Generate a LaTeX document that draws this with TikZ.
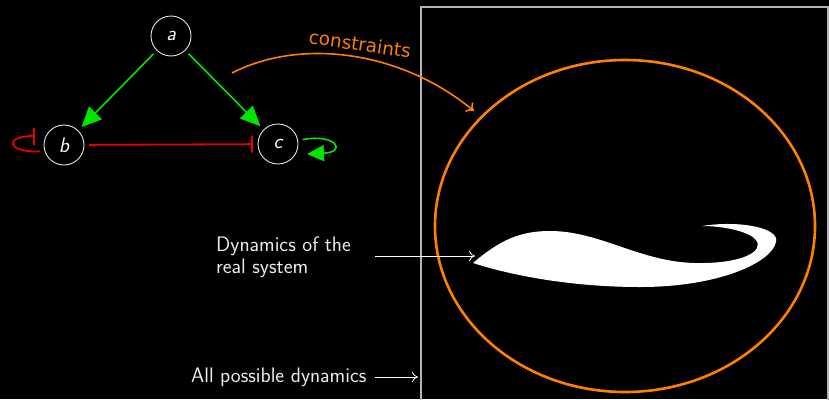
\documentclass[tikz,border=0pt]{standalone}
\usepackage{fontspec}
\newfontfamily\dejavu{DejaVu Sans}
\usetikzlibrary{arrows.meta,calc,shapes.geometric}
\definecolor{grn}{RGB}{0,230,0}
\definecolor{rd}{RGB}{230,0,0}
\definecolor{orng}{RGB}{255,128,0}
\definecolor{framec}{RGB}{180,180,180}
\begin{document}
\begin{tikzpicture}[x=1pt,y=-1pt,
 state/.style={circle,draw=white!90!black,line width=0.9pt,minimum size=40pt,inner sep=0pt,outer sep=5pt,text=white,font=\fontsize{21}{22}\selectfont\sffamily\itshape},
 act/.style={draw=grn,line width=1.6pt,-{Triangle[length=20pt,width=18pt]}},
 inh/.style={draw=rd,line width=1.8pt,-{Bar[width=17pt,line width=1.8pt]}},
 lbl/.style={text=white!92!black,font=\fontsize{21}{22}\selectfont\sffamily,inner sep=0pt},
 thinarr/.style={draw=white,line width=0.8pt,-{To[length=6pt,width=10pt]}},
 conarr/.style={draw=orng,line width=1.6pt,-{To[length=7pt,width=12pt]}}]
\useasboundingbox (0,0) rectangle (829,399);
\fill[black] (0,0) rectangle (829,399);
\draw[framec,line width=1.4pt] (421,402) -- (421,7) -- (828,7) -- (828,402);
% network
\node[state] (a) at (171,36) {a};
\node[state] (b) at (64,145) {b};
\node[state] (c) at (278,144) {c};
\draw[act] (a) -- (b);
\draw[act] (a) -- (c);
\draw[inh] (b) -- (c);
\coordinate (bl) at (35,136);
\draw[inh] (b.195) .. controls (8,153) and (2,136) .. (bl);
\coordinate (cl) at (307,154);
\draw[act,-{Triangle[length=17pt,width=16pt]}] (c.10) .. controls (335,133) and (348,152) .. (cl);
% ellipse and blob
\node[ellipse,draw=orng,line width=2.6pt,minimum width=380pt,minimum height=332pt,inner sep=0pt] (E) at (625,226) {};
\fill[white] (473,263)
 .. controls (500,240) and (520,231) .. (550,231)
 .. controls (600,231) and (640,262) .. (695,263)
 .. controls (740,264) and (765,252) .. (756,240)
 .. controls (750,232) and (725,226) .. (702,226)
 .. controls (740,220) and (780,228) .. (776,242)
 .. controls (772,262) and (720,287) .. (640,287)
 .. controls (570,287) and (510,275) .. (473,263) -- cycle;
\coordinate (blobtip) at (475,256);
% constraints
\coordinate (cs) at (232,73);
\coordinate (ce) at (474,111);
\draw[conarr] (cs) .. controls (300,38) and (400,50) .. (ce);
\node[text=orng,font=\dejavu\fontsize{18.5}{20}\selectfont,rotate=-8.5,inner sep=0pt] (cons) at (360,44) {constraints};
% labels
\node[lbl,align=left,anchor=west] (dyn) at (216,257) {Dynamics of the\\real system};
\coordinate (d1) at (375,256);
\draw[thinarr] (d1) -- (blobtip);
\node[lbl,anchor=base west] (all) at (191,382) {All possible dynamics};
\coordinate (p1) at (375,377);
\coordinate (p2) at (418,377);
\draw[thinarr] (p1) -- (p2);
\end{tikzpicture}
\end{document}
